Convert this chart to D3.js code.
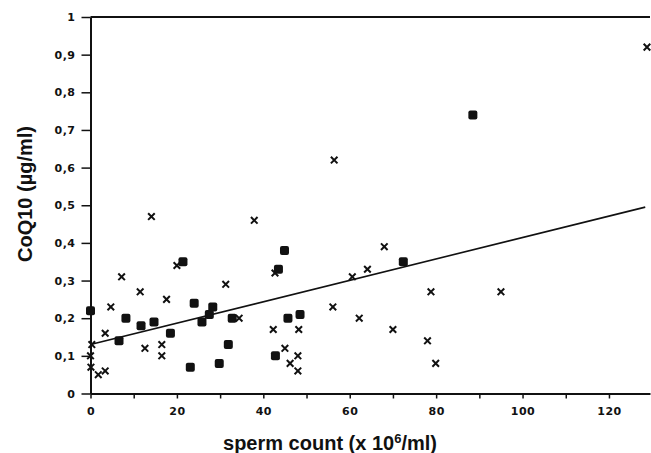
<!DOCTYPE html>
<html>
<head>
<meta charset="utf-8">
<script src="https://cdn.jsdelivr.net/npm/d3@7"></script>
<style>
  body { margin: 0; background: #fff; }
  .tick text { font-family: "DejaVu Sans", sans-serif; font-weight: bold; font-size: 11px; letter-spacing: 0.5px; fill: #111; }
  .title { font-family: "Liberation Sans", Arial, sans-serif; font-weight: bold; font-size: 20px; fill: #111; }
</style>
</head>
<body>
<div id="chart"></div>
<script>

/////////////////////
// Data
/////////////////////

// filled squares
var squareX = [0, 6.6, 8.2, 11.7, 14.7, 18.5, 21.4, 23.1, 24.0, 25.8, 27.5, 28.3, 29.8, 31.9, 32.8,
               42.8, 43.5, 44.9, 45.7, 48.5, 72.4, 88.5];
var squareY = [0.22, 0.14, 0.20, 0.18, 0.19, 0.16, 0.35, 0.07, 0.24, 0.19, 0.21, 0.23, 0.08, 0.13, 0.20,
               0.10, 0.33, 0.38, 0.20, 0.21, 0.35, 0.74];

// crosses
var crossX = [0.3, 0, 0.1, 1.8, 3.4, 3.4, 4.7, 7.2, 11.5, 12.6, 14.1, 16.5, 16.5, 17.6, 20.0,
              31.3, 34.4, 37.9, 42.3, 42.7, 45.0, 46.2, 48.0, 48.0, 48.2, 56.1, 56.4, 60.6,
              62.2, 64.1, 68.0, 70.0, 78.0, 78.8, 79.9, 95.0, 128.8];
var crossY = [0.13, 0.10, 0.07, 0.05, 0.06, 0.16, 0.23, 0.31, 0.27, 0.12, 0.47, 0.13, 0.10, 0.25, 0.34,
              0.29, 0.20, 0.46, 0.17, 0.32, 0.12, 0.08, 0.10, 0.06, 0.17, 0.23, 0.62, 0.31,
              0.20, 0.33, 0.39, 0.17, 0.14, 0.27, 0.08, 0.27, 0.92];

// regression line end points
var fitX = [0, 128.4];
var fitY = [0.13, 0.495];

var yTicks = [0, 0.1, 0.2, 0.3, 0.4, 0.5, 0.6, 0.7, 0.8, 0.9, 1];
var xTicks = [0, 10, 20, 30, 40, 50, 60, 70, 80, 90, 100, 110, 120];

/////////////////////
// Setup
/////////////////////

var width = 651, height = 453;
var mLeft = 90.5, mRight = 650, mTop = 17, mBottom = 393.5;

var svg = d3.select("#chart").append("svg")
    .attr("width", width)
    .attr("height", height);

var x = d3.scaleLinear()
    .domain([0, 129.5])
    .range([mLeft, mRight]);
var y = d3.scaleLinear()
    .domain([0, 1])
    .range([mBottom, mTop]);

var fmtY = function(d) {
    if (d === 0 || d === 1) return String(d);
    return d3.format(".1f")(d).replace(".", ",");
};

// Axes

var xAxis = svg.append("g")
    .attr("transform", "translate(0," + mBottom + ")")
    .call(d3.axisBottom(x)
        .tickValues(xTicks)
        .tickSize(5)
        .tickSizeOuter(0)
        .tickFormat(function(d) { return d % 20 === 0 ? d : ""; }));
xAxis.select(".domain").attr("stroke-width", 2).attr("stroke", "#111");
xAxis.selectAll(".tick line").attr("stroke-width", 1.5).attr("stroke", "#111");
xAxis.selectAll(".tick text").attr("dy", "1.25em");

var yAxis = svg.append("g")
    .attr("transform", "translate(" + mLeft + ",0)")
    .call(d3.axisLeft(y)
        .tickValues(yTicks)
        .tickSize(9)
        .tickSizeOuter(0)
        .tickFormat(fmtY));
yAxis.select(".domain").attr("stroke-width", 2).attr("stroke", "#111");
yAxis.selectAll(".tick line").attr("stroke-width", 1.5).attr("stroke", "#111");
yAxis.selectAll(".tick text").attr("x", -15);

// top border
svg.append("line")
    .attr("x1", x(0))
    .attr("x2", mRight)
    .attr("y1", y(1))
    .attr("y2", y(1))
    .attr("stroke", "#111")
    .attr("stroke-width", 2);

/////////////////////
// Marks
/////////////////////

svg.append("line")
    .attr("x1", x(fitX[0]))
    .attr("y1", y(fitY[0]))
    .attr("x2", x(fitX[1]))
    .attr("y2", y(fitY[1]))
    .attr("stroke", "#111")
    .attr("stroke-width", 1.6);

var squares = squareX.map(function(d, i) { return {x: d, y: squareY[i]}; });
var crosses = crossX.map(function(d, i) { return {x: d, y: crossY[i]}; });

var s = 9;
svg.selectAll(".sq")
    .data(squares)
  .enter().append("rect")
    .attr("class", "sq")
    .attr("x", function(d) { return x(d.x) - s / 2; })
    .attr("y", function(d) { return y(d.y) - s / 2; })
    .attr("width", s)
    .attr("height", s)
    .attr("rx", 2)
    .attr("fill", "#111");

var c = 3.3;
svg.selectAll(".cr")
    .data(crosses)
  .enter().append("path")
    .attr("class", "cr")
    .attr("d", function(d) {
        var cx = x(d.x), cy = y(d.y);
        return "M" + (cx - c) + "," + (cy - c) + "L" + (cx + c) + "," + (cy + c) +
               "M" + (cx - c) + "," + (cy + c) + "L" + (cx + c) + "," + (cy - c);
    })
    .attr("stroke", "#111")
    .attr("stroke-width", 2)
    .attr("fill", "none");

/////////////////////
// Titles
/////////////////////

svg.append("text")
    .attr("class", "title")
    .attr("x", 330)
    .attr("y", 450)
    .attr("text-anchor", "middle")
    .html("sperm count (x 10<tspan dy='-7' font-size='13px'>6</tspan><tspan dy='7'>/ml)</tspan>");

svg.append("text")
    .attr("class", "title")
    .attr("transform", "translate(32,194) rotate(-90)")
    .attr("text-anchor", "middle")
    .text("CoQ10 (µg/ml)");

</script>
</body>
</html>
